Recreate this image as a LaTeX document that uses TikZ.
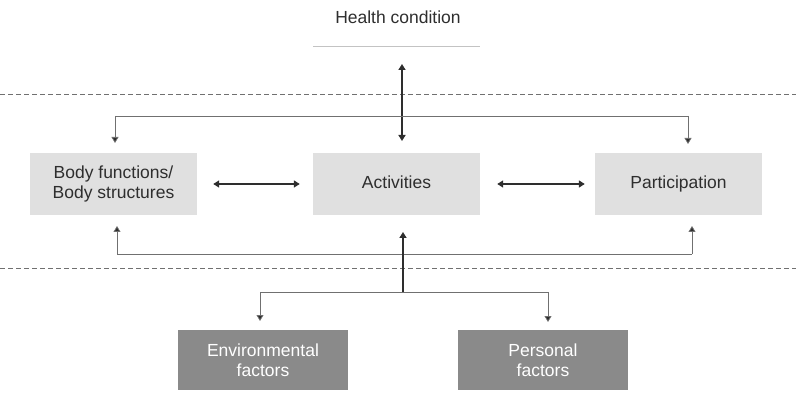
\documentclass[tikz,border=0pt]{standalone}
\usepackage{fontspec}
\setmainfont{Liberation Sans}
\usetikzlibrary{arrows.meta}
\definecolor{txt}{HTML}{2E2E2E}
\definecolor{lightbox}{HTML}{E0E0E0}
\definecolor{darkbox}{HTML}{8A8A8A}
\definecolor{fb}{HTML}{707070}
\tikzset{
  lbox/.style={fill=lightbox, draw=none, minimum width=167pt, minimum height=62pt, align=center, text=txt, font=\fontsize{17.5}{20.5}\selectfont},
  dbox/.style={fill=darkbox, draw=none, minimum width=170pt, minimum height=60pt, align=center, text=white, font=\fontsize{17.5}{20.5}\selectfont},
  thickarr/.style={line width=1.8pt, draw=txt, {Triangle[length=6pt,width=7pt]}-{Triangle[length=6pt,width=7pt]}},
  uparr/.style={line width=1.8pt, draw=txt, -{Triangle[length=6pt,width=7pt]}},
  fbline/.style={line width=0.8pt, draw=fb},
  fbarr/.style={line width=0.8pt, draw=fb, -{Triangle[length=6pt,width=7pt,fill=txt]}},
  sep/.style={line width=1pt, draw=fb, dash pattern=on 5pt off 3pt}
}
\begin{document}
\begin{tikzpicture}[x=1pt,y=-1pt]
\useasboundingbox (0,0) rectangle (796,393);
% health condition
\node[text=txt, font=\fontsize{17.5}{20.5}\selectfont] (hc) at (398,17) {Health condition};
\coordinate (hcl) at (313,47);
\coordinate (hcr) at (480,47);
\draw[line width=1pt, draw=lightbox!70!gray] (hcl) -- (hcr);
% separators
\coordinate (s1l) at (0,95); \coordinate (s1r) at (796,95);
\coordinate (s2l) at (0,268); \coordinate (s2r) at (796,268);
\draw[sep] (s1l) -- (s1r);
\draw[sep] (s2l) -- (s2r);
% boxes
\node[lbox] (bf) at (113.5,184) {Body functions/\\Body structures};
\node[lbox] (act) at (396.5,184) {\vphantom{Ay}Activities};
\node[lbox] (par) at (678.5,184) {\vphantom{Ay}Participation};
\node[dbox] (env) at (263,360) {Environmental\\factors};
\node[dbox] (per) at (543,360) {Personal\\factors};
% horizontal double arrows
\draw[thickarr] ([xshift=16pt]bf.east) -- ([xshift=-13pt]act.west);
\draw[thickarr] ([xshift=17pt]act.east) -- ([xshift=-10pt]par.west);
% health condition arrow
\coordinate (hcb) at (402,64);
\coordinate (actt) at (402,141);
\draw[thickarr] (hcb) -- (actt);
% top feedback
\coordinate (tl) at (115,116);
\coordinate (tr) at (688,116);
\draw[fbline] (tl) -- (tr);
\draw[fbarr] (tl) -- (115,143);
\draw[fbarr] (tr) -- (688,144);
% bottom feedback
\coordinate (bl) at (117,254);
\coordinate (br) at (692,254);
\draw[fbline] (bl) -- (br);
\draw[fbarr] (bl) -- (117,226);
\draw[fbarr] (br) -- (692,226);
% factors
\coordinate (fm) at (403,292);
\coordinate (fl) at (260,292);
\coordinate (fr) at (548,292);
\draw[uparr] (fm) -- (403,232);
\draw[fbline] (fl) -- (fr);
\draw[fbarr] (fl) -- (260,321);
\draw[fbarr] (fr) -- (548,322);
\end{tikzpicture}
\end{document}
